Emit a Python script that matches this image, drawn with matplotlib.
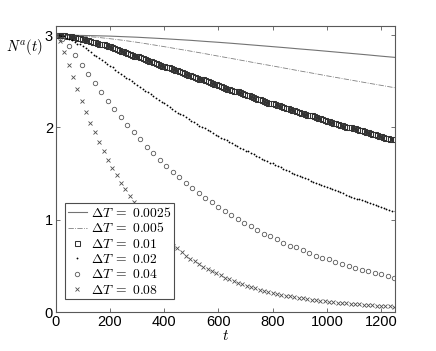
import numpy as np
import matplotlib
matplotlib.use("Agg")
import matplotlib.pyplot as plt

plt.rcParams['font.family'] = ['Liberation Sans', 'DejaVu Sans']
plt.rcParams['mathtext.fontset'] = 'cm'

# time grids (spacing of the plotted samples)
t_lines = np.arange(0, 1251, 50)
t_sq = np.arange(0, 1249, 8)
t_dot = np.arange(0, 1251, 10)
t_circ = np.arange(0, 1249, 24)
t_x = np.arange(0, 1249, 16)

# dT = 0.0025 (solid)
n_0025 = [3.000, 2.999, 2.997, 2.994, 2.990, 2.984, 2.978, 2.970, 2.962, 2.953,
          2.944, 2.933, 2.923, 2.912, 2.900, 2.888, 2.876, 2.864, 2.851, 2.839,
          2.826, 2.813, 2.800, 2.787, 2.773, 2.760]
# dT = 0.005 (dash-dot)
n_005 = [3.000, 2.997, 2.990, 2.978, 2.962, 2.944, 2.923, 2.900, 2.876, 2.851,
         2.826, 2.800, 2.773, 2.747, 2.720, 2.693, 2.667, 2.640, 2.613, 2.587,
         2.560, 2.534, 2.508, 2.482, 2.457, 2.431]
# dT = 0.01 (squares)
n_01 = [3.00, 3.00, 3.00, 3.00, 3.00, 2.99, 2.99, 2.99, 2.98, 2.98,
        2.97, 2.97, 2.96, 2.96, 2.95, 2.95, 2.94, 2.93, 2.93, 2.92,
        2.91, 2.91, 2.90, 2.89, 2.88, 2.88, 2.87, 2.86, 2.85, 2.84,
        2.83, 2.83, 2.82, 2.81, 2.80, 2.79, 2.78, 2.78, 2.77, 2.76,
        2.75, 2.74, 2.73, 2.72, 2.72, 2.71, 2.70, 2.69, 2.68, 2.67,
        2.67, 2.66, 2.65, 2.64, 2.63, 2.62, 2.62, 2.61, 2.60, 2.59,
        2.58, 2.57, 2.57, 2.56, 2.55, 2.54, 2.53, 2.52, 2.52, 2.51,
        2.50, 2.49, 2.48, 2.47, 2.47, 2.46, 2.45, 2.44, 2.43, 2.42,
        2.42, 2.41, 2.40, 2.39, 2.39, 2.38, 2.37, 2.36, 2.35, 2.35,
        2.34, 2.33, 2.32, 2.31, 2.31, 2.30, 2.29, 2.28, 2.27, 2.27,
        2.26, 2.25, 2.24, 2.24, 2.23, 2.22, 2.21, 2.21, 2.20, 2.19,
        2.19, 2.18, 2.17, 2.16, 2.16, 2.15, 2.14, 2.13, 2.13, 2.12,
        2.11, 2.10, 2.10, 2.09, 2.08, 2.07, 2.07, 2.06, 2.05, 2.05,
        2.04, 2.03, 2.03, 2.02, 2.01, 2.01, 2.00, 1.99, 1.99, 1.98,
        1.97, 1.97, 1.96, 1.95, 1.95, 1.94, 1.93, 1.93, 1.92, 1.91,
        1.91, 1.90, 1.89, 1.89, 1.88, 1.87, 1.87]
# dT = 0.02 (dots)
n_02 = [3.00, 3.00, 2.99, 2.99, 2.97, 2.96, 2.95, 2.93, 2.91, 2.90,
        2.88, 2.86, 2.84, 2.82, 2.79, 2.77, 2.75, 2.73, 2.71, 2.69,
        2.67, 2.65, 2.62, 2.60, 2.58, 2.56, 2.54, 2.52, 2.50, 2.48,
        2.46, 2.44, 2.42, 2.40, 2.38, 2.36, 2.34, 2.32, 2.30, 2.28,
        2.26, 2.24, 2.22, 2.20, 2.18, 2.16, 2.15, 2.13, 2.11, 2.09,
        2.07, 2.06, 2.04, 2.02, 2.01, 1.99, 1.97, 1.96, 1.94, 1.92,
        1.91, 1.89, 1.87, 1.86, 1.84, 1.83, 1.81, 1.80, 1.78, 1.77,
        1.75, 1.74, 1.72, 1.71, 1.69, 1.68, 1.66, 1.65, 1.64, 1.62,
        1.61, 1.59, 1.58, 1.57, 1.55, 1.54, 1.53, 1.51, 1.50, 1.49,
        1.47, 1.46, 1.45, 1.44, 1.42, 1.41, 1.40, 1.39, 1.38, 1.37,
        1.35, 1.34, 1.33, 1.32, 1.31, 1.30, 1.29, 1.27, 1.26, 1.25,
        1.24, 1.23, 1.22, 1.21, 1.20, 1.19, 1.18, 1.17, 1.16, 1.15,
        1.14, 1.13, 1.12, 1.11, 1.10, 1.09]
# dT = 0.04 (circles)
n_04 = [3.00, 2.96, 2.88, 2.79, 2.68, 2.58, 2.48, 2.38, 2.29, 2.20,
        2.11, 2.03, 1.95, 1.87, 1.79, 1.72, 1.65, 1.58, 1.52, 1.46,
        1.40, 1.34, 1.29, 1.24, 1.19, 1.14, 1.09, 1.05, 1.01, 0.97,
        0.93, 0.89, 0.85, 0.82, 0.79, 0.75, 0.72, 0.70, 0.67, 0.64,
        0.61, 0.59, 0.57, 0.54, 0.52, 0.50, 0.48, 0.46, 0.44, 0.42,
        0.41, 0.39, 0.37]
# dT = 0.08 (crosses)
n_08 = [3.00, 2.94, 2.82, 2.68, 2.55, 2.42, 2.29, 2.17, 2.05, 1.95,
        1.84, 1.74, 1.65, 1.56, 1.48, 1.40, 1.33, 1.26, 1.19, 1.12,
        1.06, 1.01, 0.95, 0.90, 0.85, 0.81, 0.77, 0.72, 0.69, 0.65,
        0.61, 0.58, 0.55, 0.52, 0.49, 0.47, 0.44, 0.42, 0.40, 0.37,
        0.354, 0.335, 0.317, 0.301, 0.285, 0.270, 0.256, 0.243, 0.231, 0.219,
        0.208, 0.198, 0.188, 0.179, 0.171, 0.163, 0.155, 0.148, 0.141, 0.134,
        0.128, 0.123, 0.117, 0.112, 0.107, 0.102, 0.098, 0.094, 0.090, 0.086,
        0.083, 0.079, 0.076, 0.073, 0.070, 0.067, 0.065, 0.062, 0.060]

labels = [r'$\Delta T\;=\;0.0025$', r'$\Delta T\;=\;0.005$', r'$\Delta T\;=\;0.01$',
          r'$\Delta T\;=\;0.02$', r'$\Delta T\;=\;0.04$', r'$\Delta T\;=\;0.08$']

fig = plt.figure(figsize=(4.36, 3.51), dpi=100)
ax = fig.add_axes([0.128, 0.111, 0.777, 0.815])

ax.plot(t_lines, n_0025, '-', color='0.45', lw=0.8, label=labels[0])
ax.plot(t_lines, n_005, '-.', color='0.5', lw=0.6, label=labels[1])
ax.plot(t_sq, n_01, 's', ls='none', ms=3.6, mfc='none', mec='0.2', mew=0.75, label=labels[2])
ax.plot(t_dot, n_02, 'o', ls='none', ms=1.3, mfc='k', mec='k', mew=0, label=labels[3])
ax.plot(t_circ, n_04, 'o', ls='none', ms=3.2, mfc='none', mec='0.35', mew=0.6, label=labels[4])
ax.plot(t_x, n_08, 'x', ls='none', ms=2.8, mec='0.3', mew=0.6, label=labels[5])

ax.set_xlim(0, 1250)
ax.set_ylim(0, 3.1)
ax.set_xticks([0, 200, 400, 600, 800, 1000, 1200])
ax.set_yticks([0, 1, 2, 3])
ax.tick_params(direction='in', top=True, right=True, length=3, width=0.6,
               labelsize=10.5, color='0.35', pad=2)
for sp in ax.spines.values():
    sp.set_color('0.35')
    sp.set_linewidth(0.8)

ax.set_xlabel('$t$', fontsize=11, labelpad=0)
ax.text(-0.092, 0.927, '$N^a(t)$', transform=ax.transAxes, fontsize=10.5,
        ha='center', va='center')

leg = ax.legend(loc='lower left', bbox_to_anchor=(0.028, 0.045), borderaxespad=0,
                fancybox=False, edgecolor='0.3', fontsize=9.8, handlelength=1.4,
                handletextpad=0.3, labelspacing=0.1, borderpad=0.18, framealpha=1)
leg.get_frame().set_linewidth(0.8)

fig.savefig('out.png', dpi=100)
